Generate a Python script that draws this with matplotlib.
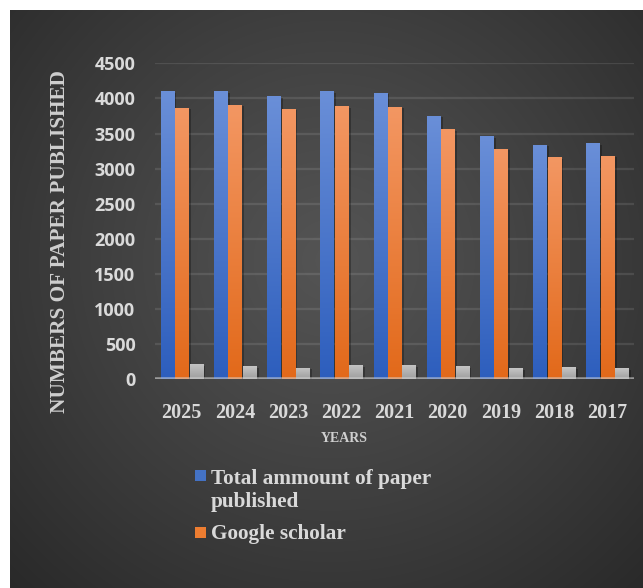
import numpy as np
import matplotlib
matplotlib.use("Agg")
import matplotlib.pyplot as plt
import matplotlib.patheffects as pe
from matplotlib.colors import LinearSegmentedColormap
from matplotlib.patches import Rectangle
from matplotlib.font_manager import FontProperties

# ---- data ----
years = ["2025", "2024", "2023", "2022", "2021", "2020", "2019", "2018", "2017"]
total_papers = [4100, 4100, 4030, 4100, 4080, 3750, 3460, 3340, 3360]
google_scholar = [3870, 3910, 3850, 3890, 3880, 3560, 3280, 3160, 3180]
third_series = [215, 185, 160, 200, 200, 185, 155, 170, 155]
y_ticks = [0, 500, 1000, 1500, 2000, 2500, 3000, 3500, 4000, 4500]
legend_labels = ["Total ammount of paper\npublished", "Google scholar"]

W, H = 643, 588
fig = plt.figure(figsize=(W / 100, H / 100), dpi=100, facecolor="white")

# ---- background with radial gradient ----
bg = fig.add_axes([10 / W, 0, (W - 10) / W, (H - 10) / H], zorder=-10)
bw, bh = W - 10, H - 10
yy, xx = np.mgrid[0:bh, 0:bw]
cx, cy = 320, 250
r = np.sqrt((xx - cx) ** 2 + (yy - cy) ** 2)
R = 470.0
val = 84 - (84 - 40) * np.clip(r / R, 0, 1) ** 1.1
img = np.dstack([val, val, val]) / 255.0
bg.imshow(img, aspect="auto", extent=[0, bw, bh, 0])
bg.set_axis_off()

# ---- main axes ----
left, right = 155, 634
top, bottom = 63.3, 379.3
ax = fig.add_axes([left / W, (H - bottom) / H, (right - left) / W, (bottom - top) / H])
ax.set_facecolor("none")

x = np.arange(len(years))
bw_ = 0.245
off = 0.272

series = [
    (total_papers, "#6a8fd8", "#2d5ebd"),
    (google_scholar, "#f39763", "#e2691a"),
    (third_series, "#c6c6c6", "#9e9e9e"),
]
shadow = [pe.SimplePatchShadow(offset=(2.0, -1.0), shadow_rgbFace="black", alpha=0.28), pe.Normal()]
grad = np.linspace(0, 1, 256).reshape(-1, 1)
for i, (vals, ctop, cbot) in enumerate(series):
    bars = ax.bar(x + (i - 1) * off, vals, width=bw_, color=cbot, zorder=3)
    cmap = LinearSegmentedColormap.from_list(f"g{i}", [cbot, ctop])
    for b in bars:
        b.set_path_effects(shadow)
        bx, by = b.get_xy()
        im = ax.imshow(grad, extent=[bx, bx + b.get_width(), by, by + b.get_height()],
                       origin="lower", cmap=cmap, aspect="auto", zorder=3.5)
        im.set_clip_path(b)

ax.set_xlim(-0.5, len(years) - 0.5)
ax.set_ylim(0, 4500)

ytick_fp = FontProperties(family="Open Sans", weight="bold", size=13)
xtick_fp = FontProperties(family="Liberation Serif", weight="bold", size=14.5)
ax.set_yticks(y_ticks)
ax.set_yticklabels([str(t) for t in y_ticks], fontproperties=ytick_fp)
ax.set_xticks(x)
ax.set_xticklabels(years, fontproperties=xtick_fp)
ax.grid(axis="y", color="white", alpha=0.1, lw=1.6, zorder=1)
ax.set_axisbelow(True)
for s in ax.spines.values():
    s.set_visible(False)
ax.axhline(0, color="#d6d6d6", alpha=0.55, lw=2.6, zorder=6)
ax.tick_params(axis="both", length=0)
ax.tick_params(axis="y", pad=14, labelcolor="#dadada")
ax.tick_params(axis="x", pad=17, labelcolor="#d9d9d9")

# axis titles
fig.text(60 / W, 1 - 242 / H, "NUMBERS OF PAPER PUBLISHED", rotation=90, ha="center", va="center",
         fontfamily="Liberation Serif", fontweight="bold", fontsize=15.3, color="#cfcfcf")
fig.text(344 / W, 1 - 439 / H, "YEARS", ha="center", va="center",
         fontfamily="Liberation Serif", fontweight="bold", fontsize=10, color="#cfcfcf")

# legend (manual); text placed by the baseline of its last line
leg_colors = ["#4472c4", "#ed7d31"]
sq_tops = [470, 527]
last_baselines = [507, 539]
for lab, col, st, bl in zip(legend_labels, leg_colors, sq_tops, last_baselines):
    fig.patches.append(Rectangle((195 / W, 1 - (st + 11) / H), 11 / W, 11 / H,
                                 transform=fig.transFigure, facecolor=col, edgecolor="none"))
    fig.text(211 / W, 1 - bl / H, lab, ha="left", va="baseline", linespacing=1.2,
             fontfamily="Liberation Serif", fontweight="bold", fontsize=15.3, color="#d9d9d9")

fig.savefig("out.png", dpi=100, facecolor="white")
